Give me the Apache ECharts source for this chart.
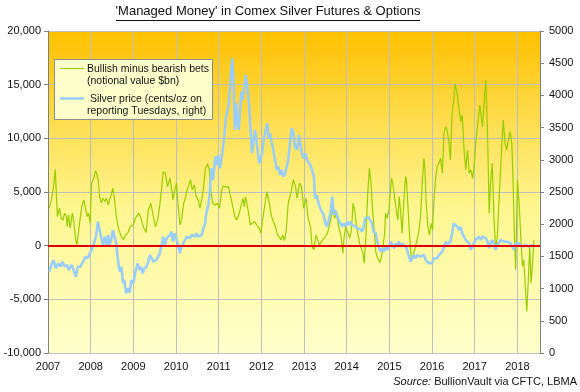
<!DOCTYPE html>
<html><head><meta charset="utf-8">
<script src="https://cdn.jsdelivr.net/npm/echarts@6/dist/echarts.min.js"></script>
<style>html,body{margin:0;padding:0;background:#fff}#c{width:580px;height:392px}</style>
</head><body><div id="c"></div>
<script>
// ---- Data ----
const yearTicks = [2007,2008,2009,2010,2011,2012,2013,2014,2015,2016,2017,2018];
const leftTicks = [-10000,-5000,0,5000,10000,15000,20000];
const rightTicks = [0,500,1000,1500,2000,2500,3000,3500,4000,4500,5000];

// Bullish minus bearish bets (notional value $bn, left axis)
const betDates = [2007.03,2007.08,2007.13,2007.17,2007.20,2007.22,2007.27,2007.31,2007.35,2007.39,2007.43,2007.45,2007.48,2007.52,2007.57,2007.60,2007.65,2007.68,2007.72,2007.77,2007.80,2007.84,2007.88,2007.92,2007.95,2007.99,
2008.02,2008.07,2008.12,2008.15,2008.18,2008.21,2008.25,2008.29,2008.33,2008.37,2008.41,2008.44,2008.48,2008.52,2008.56,2008.60,2008.66,2008.72,2008.77,2008.82,2008.87,2008.93,
2009.00,2009.05,2009.12,2009.18,2009.23,2009.30,2009.35,2009.41,2009.47,2009.52,2009.57,2009.62,2009.66,2009.70,2009.75,2009.80,2009.86,2009.89,2009.93,2009.97,
2010.01,2010.05,2010.09,2010.13,2010.18,2010.22,2010.26,2010.30,2010.34,2010.38,2010.43,2010.47,2010.52,2010.56,2010.60,2010.64,2010.69,2010.74,2010.78,2010.82,2010.86,2010.92,2010.97,
2011.02,2011.07,2011.11,2011.17,2011.23,2011.28,2011.33,2011.38,2011.42,2011.46,2011.52,2011.57,2011.60,2011.63,2011.66,2011.70,2011.74,2011.78,2011.84,2011.89,2011.95,2011.99,
2012.03,2012.07,2012.13,2012.17,2012.20,2012.24,2012.28,2012.33,2012.38,2012.42,2012.46,2012.50,2012.54,2012.58,2012.63,2012.69,2012.75,2012.80,2012.84,2012.89,2012.94,2012.99,
2013.05,2013.09,2013.15,2013.19,2013.23,2013.28,2013.32,2013.36,2013.40,2013.44,2013.50,2013.55,2013.59,2013.64,2013.67,2013.72,2013.76,2013.81,2013.87,2013.91,2013.94,2013.98,
2014.03,2014.07,2014.11,2014.15,2014.19,2014.22,2014.26,2014.30,2014.34,2014.38,2014.41,2014.45,2014.49,2014.53,2014.57,2014.61,2014.64,2014.68,2014.71,2014.78,2014.83,2014.89,2014.91,2014.95,2014.99,
2015.03,2015.05,2015.08,2015.12,2015.17,2015.20,2015.23,2015.26,2015.30,2015.34,2015.38,2015.40,2015.44,2015.48,2015.52,2015.56,2015.61,2015.65,2015.69,2015.73,2015.77,2015.81,2015.83,2015.86,2015.90,2015.94,2015.98,
2016.01,2016.04,2016.08,2016.12,2016.16,2016.20,2016.24,2016.28,2016.32,2016.35,2016.39,2016.43,2016.47,2016.51,2016.54,2016.60,2016.63,2016.67,2016.71,2016.75,2016.79,2016.83,2016.87,2016.91,2016.95,2016.98,
2017.04,2017.09,2017.12,2017.18,2017.22,2017.26,2017.30,2017.34,2017.37,2017.41,2017.45,2017.49,2017.53,2017.57,2017.63,2017.67,2017.71,2017.75,2017.79,2017.83,2017.87,2017.90,2017.93,2017.96,
2018.00,2018.04,2018.08,2018.12,2018.15,2018.19,2018.22,2018.26,2018.29,2018.32,2018.35,2018.39];
const betValues = [3490,4260,5500,7120,4450,2710,3490,2560,2370,3030,2710,1780,2870,1630,3030,2400,540,70,1470,3030,3800,4260,3490,2710,3030,2090,
5820,6280,6990,6590,5970,4570,3960,4420,4110,4420,3800,3640,4730,5350,4260,2710,1470,850,540,1010,1170,1780,
1940,2560,3030,2560,1780,1220,3330,3960,2710,1780,2400,3800,5200,6900,6750,5500,6280,5500,4260,5200,
5820,3800,1940,2400,3960,4420,5200,5040,6130,5200,5660,4570,4260,3490,4260,5200,7220,7620,7060,5000,3960,3800,3960,
3490,5200,5570,5450,5500,4570,3640,2710,2400,2710,3640,4420,3640,4570,3960,3030,1940,1780,2250,1940,1630,1160,
2400,3490,5040,4260,3640,2710,2250,1780,1010,1160,540,1010,470,1310,3960,4890,6130,5500,4420,5820,5500,3490,
4420,2710,1780,-80,-390,1010,850,70,-20,540,850,1170,1780,2710,3330,2560,3030,1780,850,-700,850,1780,
1170,700,1470,3960,3180,2090,1160,230,390,-700,-1630,850,4570,7220,5820,3030,1800,-550,-1010,-1570,-700,1160,3030,2560,3330,
5350,6280,5820,4570,3030,2400,4570,3330,1160,4260,6430,6130,3330,540,-1320,-860,-80,540,1310,2710,5820,8150,7370,4260,1780,1010,2090,
1470,3960,6130,7370,7680,8150,6750,10470,11090,10780,9850,7990,12340,13570,15100,13880,12800,11550,12180,8920,7060,8920,6750,7060,6280,7220,
10160,12020,13110,11090,13270,15440,10470,3030,5820,7680,2710,-390,850,4260,8920,11710,9540,8920,9850,10620,9540,5820,850,-2250,
6130,3960,850,-1940,-1320,-4110,-6140,-2870,-80,-3490,-1940,540];

// Silver price (cents/oz on reporting Tuesdays, right axis)
const priceDates = [2007.03,2007.08,2007.13,2007.18,2007.24,2007.29,2007.34,2007.39,2007.45,2007.49,2007.55,2007.60,2007.65,2007.70,2007.76,2007.82,2007.88,2007.93,2007.98,
2008.02,2008.06,2008.09,2008.13,2008.17,2008.21,2008.25,2008.29,2008.33,2008.37,2008.41,2008.44,2008.48,2008.52,2008.56,2008.60,2008.63,2008.66,2008.69,2008.72,2008.76,2008.79,2008.83,2008.87,2008.91,2008.96,
2009.00,2009.05,2009.10,2009.14,2009.18,2009.22,2009.26,2009.31,2009.35,2009.39,2009.43,2009.47,2009.51,2009.54,2009.58,2009.62,2009.66,2009.70,2009.74,2009.78,2009.82,2009.86,2009.89,2009.93,2009.97,
2010.01,2010.05,2010.09,2010.13,2010.17,2010.21,2010.25,2010.29,2010.33,2010.36,2010.40,2010.44,2010.48,2010.52,2010.56,2010.60,2010.64,2010.68,2010.71,2010.75,2010.79,2010.83,2010.87,2010.92,2010.96,2010.99,
2011.03,2011.07,2011.13,2011.17,2011.23,2011.27,2011.30,2011.32,2011.35,2011.38,2011.41,2011.44,2011.47,2011.50,2011.53,2011.56,2011.60,2011.63,2011.66,2011.69,2011.72,2011.75,2011.78,2011.81,2011.85,2011.88,2011.91,2011.95,2011.99,
2012.02,2012.06,2012.11,2012.14,2012.17,2012.20,2012.24,2012.28,2012.32,2012.36,2012.40,2012.44,2012.48,2012.52,2012.56,2012.60,2012.63,2012.67,2012.71,2012.75,2012.79,2012.84,2012.88,2012.91,2012.95,2012.99,
2013.03,2013.07,2013.11,2013.15,2013.19,2013.23,2013.26,2013.30,2013.34,2013.38,2013.42,2013.46,2013.50,2013.54,2013.58,2013.62,2013.66,2013.70,2013.73,2013.77,2013.81,2013.85,2013.89,2013.93,2013.97,
2014.01,2014.05,2014.08,2014.12,2014.16,2014.20,2014.24,2014.28,2014.32,2014.36,2014.40,2014.43,2014.47,2014.51,2014.55,2014.59,2014.63,2014.68,2014.71,2014.75,2014.79,2014.83,2014.87,2014.91,2014.95,2014.99,
2015.03,2015.07,2015.11,2015.15,2015.18,2015.22,2015.26,2015.30,2015.34,2015.38,2015.42,2015.46,2015.50,2015.53,2015.57,2015.61,2015.65,2015.69,2015.73,2015.77,2015.81,2015.85,2015.88,2015.92,2015.96,
2016.00,2016.04,2016.08,2016.12,2016.16,2016.20,2016.24,2016.28,2016.32,2016.35,2016.39,2016.43,2016.47,2016.51,2016.55,2016.59,2016.63,2016.67,2016.71,2016.75,2016.79,2016.83,2016.87,2016.91,2016.95,2016.98,
2017.02,2017.06,2017.10,2017.14,2017.18,2017.22,2017.26,2017.30,2017.34,2017.37,2017.41,2017.45,2017.49,2017.53,2017.57,2017.61,2017.65,2017.69,2017.73,2017.77,2017.80,2017.84,2017.88,2017.92,2017.96,
2018.00,2018.04,2018.12,2018.19,2018.27,2018.35,2018.41];
const priceValues = [1263,1367,1444,1315,1393,1340,1418,1340,1367,1289,1367,1289,1185,1340,1340,1418,1496,1470,1548,
1574,1651,1729,1833,2039,2013,1781,1677,1806,1677,1833,1677,1755,1910,1806,1703,1496,1340,1263,1340,1082,1134,927,1005,940,1134,
1082,1263,1393,1289,1340,1237,1315,1340,1418,1522,1548,1418,1393,1444,1418,1548,1677,1806,1651,1781,1781,1833,1884,1729,1858,
1833,1677,1548,1651,1703,1755,1806,1833,1781,1833,1858,1806,1858,1806,1781,1833,1858,2013,2169,2272,2480,2868,2687,3049,2920,3075,
2868,3024,3359,3670,3825,4188,4446,4576,4188,3463,3878,3567,3463,3774,4058,3929,4136,4317,4188,4007,3774,3437,3101,3256,3463,3334,3153,2946,2920,
3101,3334,3490,3567,3334,3412,3282,3153,2997,2842,2893,2764,2842,2738,2790,2764,2997,3256,3490,3412,3204,3153,3386,3256,3101,3024,
3101,2997,3024,2920,2893,2738,2402,2454,2325,2247,2221,2143,2014,1961,2065,2169,2427,2143,2221,2221,2065,2065,1961,2014,1961,
2039,1987,2039,1987,1961,1970,1936,1961,1921,1884,1961,2092,2117,2110,2065,2014,1884,1858,1755,1651,1574,1626,1574,1651,1600,1651,
1729,1677,1626,1703,1651,1729,1651,1703,1729,1651,1600,1496,1418,1470,1522,1470,1522,1548,1496,1522,1522,1444,1418,1393,1418,
1393,1470,1496,1470,1522,1548,1574,1651,1729,1677,1651,1729,1858,2014,2039,1961,1910,1961,1858,1833,1755,1729,1703,1600,1626,1703,
1755,1729,1806,1755,1806,1833,1781,1729,1626,1703,1755,1703,1600,1677,1703,1755,1781,1729,1703,1729,1703,1703,1651,1600,1703,
1677,1703,1651,1677,1651,1677,1651];

// ---- Chart ----
const FONT = 'Liberation Sans, Arial, sans-serif';
const fmtThousands = v => {
  const s = Math.abs(v).toString().replace(/\B(?=(\d{3})+(?!\d))/g, ',');
  return (v < 0 ? '-' : '') + s;
};
const chart = echarts.init(document.getElementById('c'), null, {renderer: 'canvas'});
chart.setOption({
  animation: false,
  backgroundColor: '#ffffff',
  grid: {
    left: 48, right: 40, top: 31, bottom: 39, show: true, borderWidth: 0,
    backgroundColor: new echarts.graphic.LinearGradient(0, 0, 0, 1, [
      {offset: 0, color: '#FFC000'},
      {offset: 0.3, color: '#FFDF55'},
      {offset: 0.55, color: '#FFF690'},
      {offset: 1, color: '#FFFFCC'}
    ])
  },
  xAxis: {
    type: 'value', min: yearTicks[0], max: 2018.53, interval: 1,
    axisLine: {show: true, lineStyle: {color: '#808080', width: 1}},
    axisTick: {show: false},
    splitLine: {show: true, lineStyle: {color: '#BFBFBF', width: 1}},
    axisLabel: {
      color: '#111', fontFamily: FONT, fontSize: 11, margin: 8,
      showMaxLabel: false,
      formatter: v => (yearTicks.indexOf(Math.round(v)) >= 0 && Math.abs(v - Math.round(v)) < 1e-6) ? String(Math.round(v)) : ''
    }
  },
  yAxis: [{
    type: 'value', min: leftTicks[0], max: leftTicks[leftTicks.length - 1], interval: 5000,
    axisLine: {show: true, lineStyle: {color: '#808080'}},
    axisTick: {show: true, length: 4, lineStyle: {color: '#808080'}},
    splitLine: {show: true, lineStyle: {color: '#BFBFBF', width: 1}},
    axisLabel: {color: '#111', fontFamily: FONT, fontSize: 11, margin: 7, formatter: fmtThousands}
  }, {
    type: 'value', min: rightTicks[0], max: rightTicks[rightTicks.length - 1], interval: 500,
    position: 'right',
    axisLine: {show: true, lineStyle: {color: '#808080'}},
    axisTick: {show: true, length: 4, lineStyle: {color: '#808080'}},
    splitLine: {show: false},
    axisLabel: {color: '#111', fontFamily: FONT, fontSize: 11, margin: 9, formatter: v => String(v)}
  }],
  series: [{
    name: 'Bullish minus bearish bets',
    type: 'line', yAxisIndex: 0, showSymbol: false, symbol: 'none',
    lineStyle: {color: '#99CC00', width: 1.2},
    data: betDates.map((d, i) => [d, betValues[i]]),
    markLine: {
      silent: true, symbol: 'none', label: {show: false},
      lineStyle: {color: '#E00000', width: 2, type: 'solid'},
      data: [{yAxis: 0}]
    },
    z: 2
  }, {
    name: 'Silver price',
    type: 'line', yAxisIndex: 1, showSymbol: false, symbol: 'none',
    lineStyle: {color: '#99CCFF', width: 2.5},
    data: priceDates.map((d, i) => [d, priceValues[i]]),
    z: 3
  }],
  graphic: [
    {type: 'text', x: 268, y: 5, style: {text: "'Managed Money' in Comex Silver Futures & Options", font: '13px ' + FONT, fill: '#111', textAlign: 'center'}},
    {type: 'line', shape: {x1: 116, y1: 20.5, x2: 420, y2: 20.5}, style: {stroke: '#111', lineWidth: 1}},
    {type: 'rect', shape: {x: 54.5, y: 59.5, width: 158, height: 60}, style: {fill: '#FFFFCC', stroke: '#8C8C8C', lineWidth: 1}, z: 10},
    {type: 'line', shape: {x1: 60, y1: 68.5, x2: 84, y2: 68.5}, style: {stroke: '#99CC00', lineWidth: 1.2}, z: 11},
    {type: 'text', x: 87, y: 62.5, style: {text: 'Bullish minus bearish bets\n(notional value $bn)', font: '10.5px ' + FONT, fill: '#111', lineHeight: 12.5}, z: 11},
    {type: 'line', shape: {x1: 60, y1: 98.5, x2: 84, y2: 98.5}, style: {stroke: '#99CCFF', lineWidth: 2.5}, z: 11},
    {type: 'text', x: 87, y: 92.5, style: {text: ' Silver price (cents/oz on\nreporting Tuesdays, right)', font: '10.5px ' + FONT, fill: '#111', lineHeight: 12.5}, z: 11},
    {type: 'text', right: 3, top: 376, style: {
      text: '{i|Source:} BullionVault via CFTC, LBMA',
      rich: {i: {fontStyle: 'italic', fontSize: 11, fontFamily: FONT, fill: '#111'}},
      font: '11px ' + FONT, fill: '#111'}}
  ]
});
</script>
</body></html>
